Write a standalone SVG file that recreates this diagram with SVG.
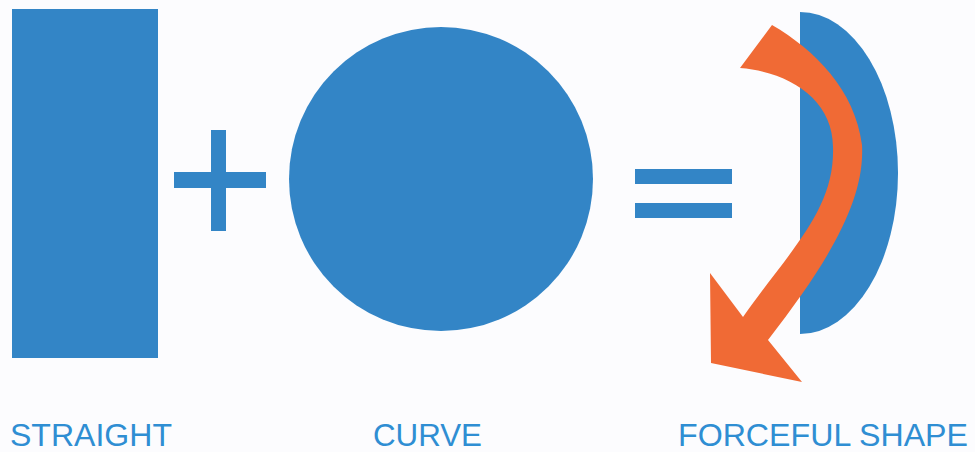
<svg xmlns="http://www.w3.org/2000/svg" width="975" height="452" viewBox="0 0 975 452">
<style>
.blue{fill:#3385c6}
.orange{fill:#f06a35}
.lbl{font-family:"Liberation Sans",Arial,sans-serif;font-size:32px;fill:#2f8ed3}
</style>
<rect width="975" height="452" fill="#fcfcfe"/>
<g id="straight">
<rect class="blue" x="12" y="9" width="146" height="349"/>
<text class="lbl" x="10" y="446" textLength="162" lengthAdjust="spacingAndGlyphs">STRAIGHT</text>
</g>
<g id="plus">
<rect class="blue" x="211" y="130" width="15" height="101"/>
<rect class="blue" x="174" y="172" width="92" height="16"/>
</g>
<g id="curve">
<circle class="blue" cx="441" cy="179" r="152"/>
<text class="lbl" x="373" y="446" textLength="109" lengthAdjust="spacingAndGlyphs">CURVE</text>
</g>
<g id="equals">
<rect class="blue" x="635" y="169" width="97" height="15"/>
<rect class="blue" x="635" y="203" width="97" height="15"/>
</g>
<g id="forceful">
<path class="blue" d="M800,12 A98,161 0 0 1 800,334 Z"/>
<path class="orange" d="M740,68 L772,25 C815,50 855,90 862,145 C865,200 830,260 768,340 L802,382 L711,363 L710,273 L743,317 C790,250 835,210 833,147 C833,100 790,72 740,68 Z"/>
<text class="lbl" x="678" y="446" textLength="290" lengthAdjust="spacingAndGlyphs">FORCEFUL SHAPE</text>
</g>
</svg>
